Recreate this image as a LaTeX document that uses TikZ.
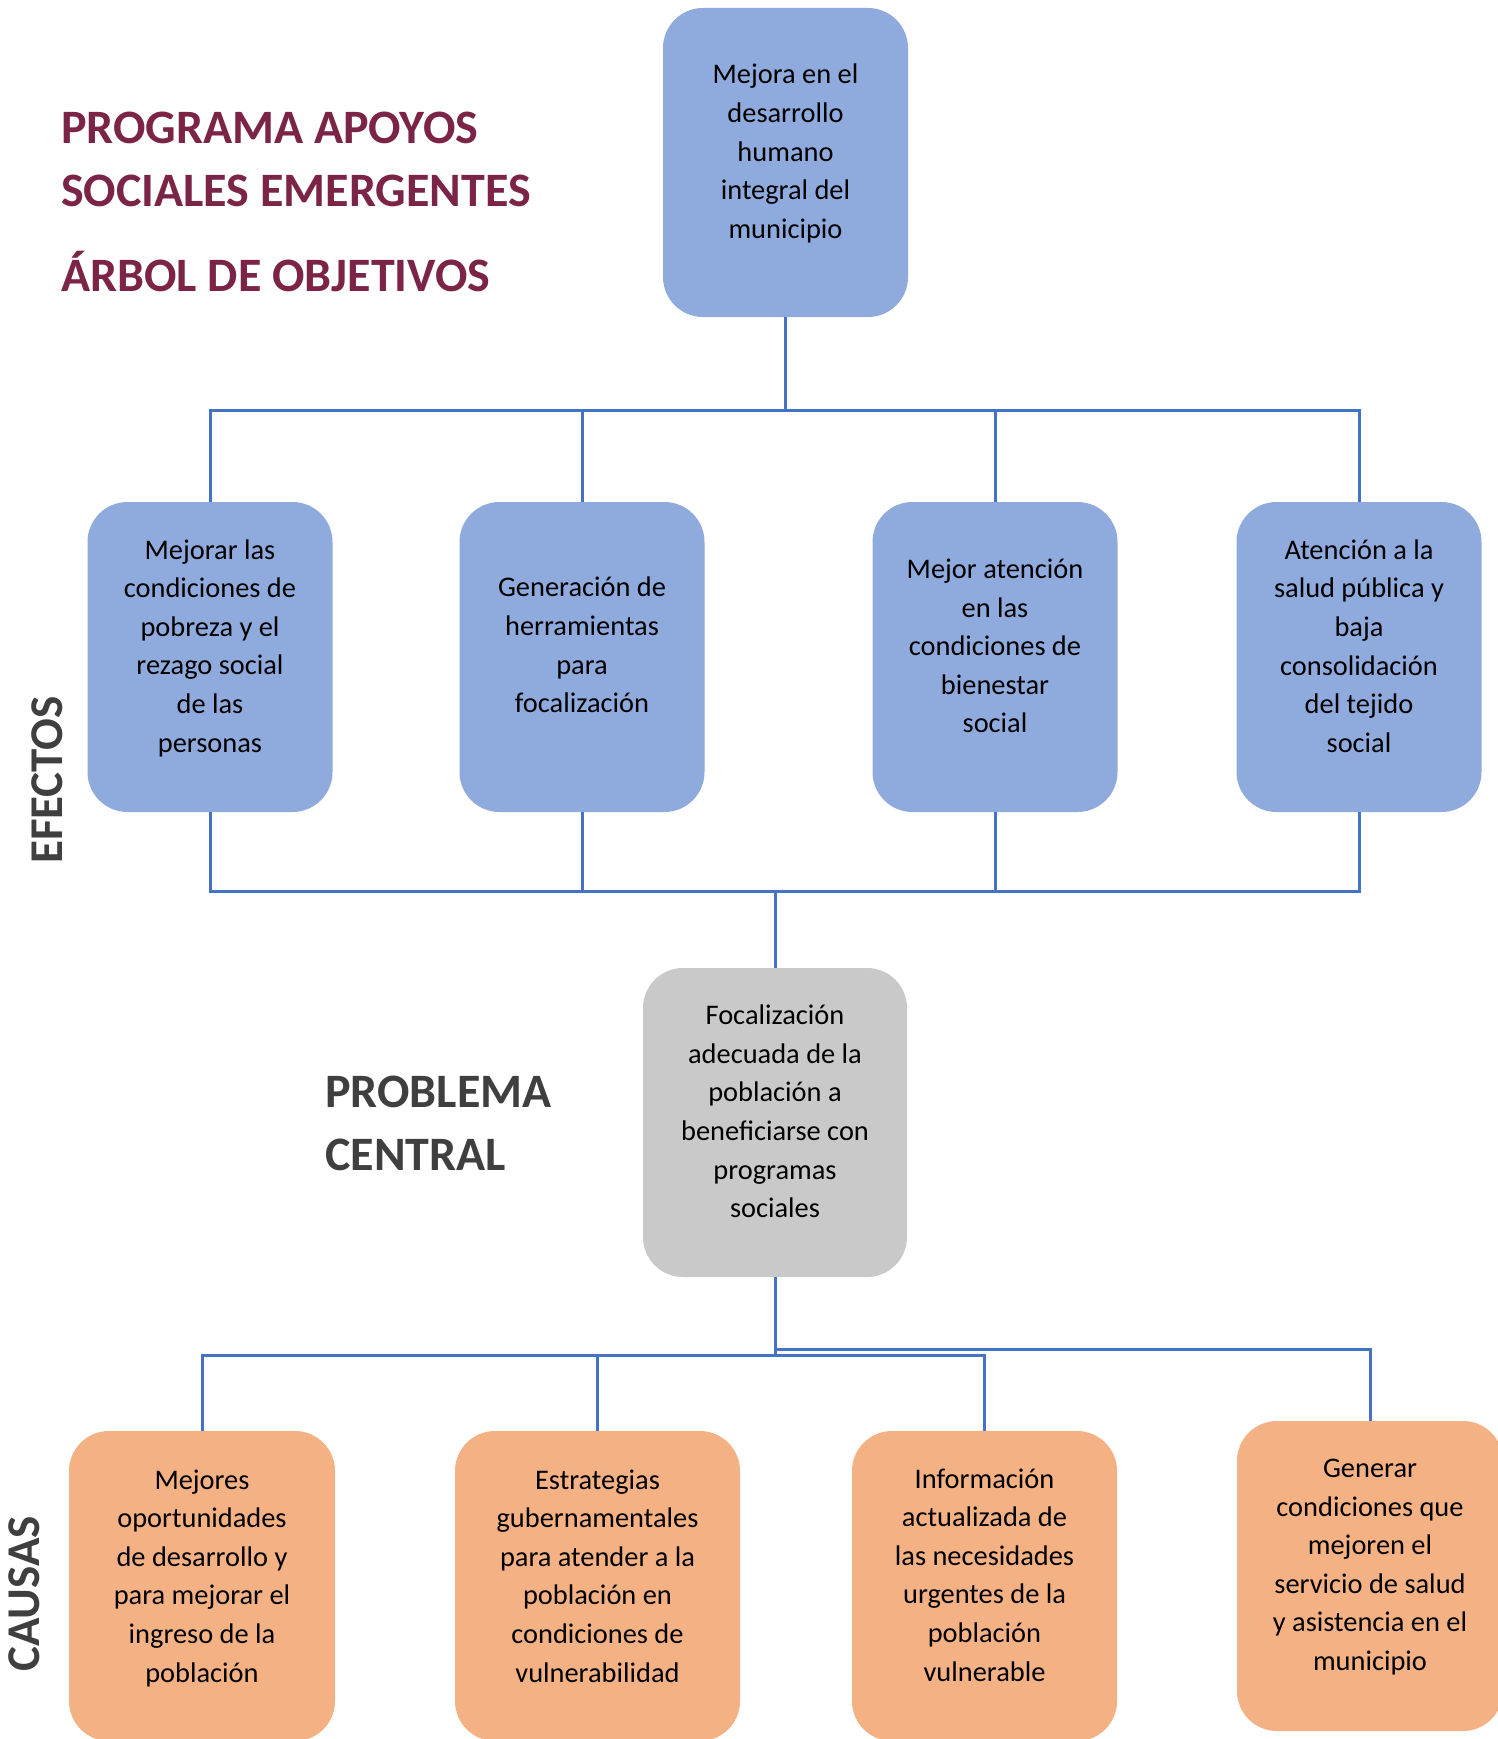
\documentclass[tikz,border=0pt]{standalone}
\usepackage{fontspec}
\setmainfont{Carlito}
\definecolor{boxblue}{HTML}{8FAADC}
\definecolor{boxgray}{HTML}{C9C9C9}
\definecolor{boxorange}{HTML}{F4B183}
\definecolor{linkblue}{HTML}{4472C4}
\definecolor{titlered}{HTML}{7C2348}
\definecolor{labelgray}{HTML}{3F3F3F}
\tikzset{
  box/.style={rounded corners=40pt, inner sep=0pt, draw=none},
  bluebox/.style={box, fill=boxblue},
  graybox/.style={box, fill=boxgray},
  orangebox/.style={box, fill=boxorange},
  txt/.style={align=center, inner sep=0pt, font=\fontsize{28.4}{38.6}\selectfont},
  conn/.style={draw=linkblue, line width=3pt},
  titletxt/.style={anchor=base west, inner sep=0pt, text=titlered, font=\fontsize{48}{58}\selectfont\bfseries},
  sectxt/.style={anchor=base west, inner sep=0pt, text=labelgray, font=\fontsize{48}{58}\selectfont\bfseries},
  sidetxt/.style={rotate=90, inner sep=0pt, text=labelgray, font=\fontsize{47}{56}\selectfont\bfseries}
}
\begin{document}
\begin{tikzpicture}[x=1pt, y=-1pt]
\clip (0,0) rectangle (1498,1739);
\fill[white] (0,0) rectangle (1498,1739);

% titles
\node[titletxt] (ti1) at (61,144) {PROGRAMA APOYOS};
\node[titletxt] (ti2) at (61,207) {SOCIALES EMERGENTES};
\node[titletxt] (ti3) at (61,291) {ÁRBOL DE OBJETIVOS};
\node[sectxt] (pc1) at (325,1107) {PROBLEMA};
\node[sectxt] (pc2) at (325,1170) {CENTRAL};
\node[sidetxt] (lef) at (47,780) {EFECTOS};
\node[sidetxt] (lca) at (24,1594) {CAUSAS};

% boxes
\node[bluebox, minimum width=245pt, minimum height=309pt] (top) at (785.5,162.5) {};
\node[bluebox, minimum width=245pt, minimum height=310pt] (e1) at (210,657) {};
\node[bluebox, minimum width=245pt, minimum height=310pt] (e2) at (582,657) {};
\node[bluebox, minimum width=245pt, minimum height=310pt] (e3) at (995,657) {};
\node[bluebox, minimum width=245pt, minimum height=310pt] (e4) at (1359,657) {};
\node[graybox, minimum width=264pt, minimum height=309pt] (cen) at (775,1122.5) {};
\node[orangebox, minimum width=266pt, minimum height=310pt] (c1) at (202,1586) {};
\node[orangebox, minimum width=285pt, minimum height=310pt] (c2) at (597.5,1586) {};
\node[orangebox, minimum width=265pt, minimum height=310pt] (c3) at (984.5,1586) {};
\node[orangebox, minimum width=266pt, minimum height=310pt] (c4) at (1370,1576) {};

% texts
\node[txt] (t0) at ([yshift=9pt]top.center) {Mejora en el\\desarrollo\\humano\\integral del\\municipio};
\node[txt] (t1) at ([yshift=9pt]e1.center) {Mejorar las\\condiciones de\\pobreza y el\\rezago social\\de las\\personas};
\node[txt] (t2) at ([yshift=12pt]e2.center) {Generación de\\herramientas\\para\\focalización};
\node[txt] (t3) at ([yshift=11pt]e3.center) {Mejor atención\\en las\\condiciones de\\bienestar\\social};
\node[txt] (t4) at ([yshift=11pt]e4.center) {Atención a la\\salud pública y\\baja\\consolidación\\del tejido\\social};
\node[txt] (t5) at ([yshift=11pt]cen.center) {Focalización\\adecuada de la\\población a\\beneficiarse con\\programas\\sociales};
\node[txt] (t6) at ([yshift=8pt]c1.center) {Mejores\\oportunidades\\de desarrollo y\\para mejorar el\\ingreso de la\\población};
\node[txt] (t7) at ([yshift=10pt]c2.center) {Estrategias\\gubernamentales\\para atender a la\\población en\\condiciones de\\vulnerabilidad};
\node[txt] (t8) at ([yshift=11pt]c3.center) {Información\\actualizada de\\las necesidades\\urgentes de la\\población\\vulnerable};
\node[txt] (t9) at ([yshift=9pt]c4.center) {Generar\\condiciones que\\mejoren el\\servicio de salud\\y asistencia en el\\municipio};

% bus coordinates
\coordinate (bt) at (785.5,410);
\coordinate (bb) at (775,891);
\coordinate (cl) at (775,1355);
\coordinate (cr) at (775,1349);

% connectors top
\draw[conn] (top.south) -- (bt);
\draw[conn] (e1.north) -- (e1.north |- bt) -- (e4.north |- bt) -- (e4.north);
\draw[conn] (e2.north) -- (e2.north |- bt);
\draw[conn] (e3.north) -- (e3.north |- bt);
% connectors bottom of effects
\draw[conn] (e1.south) -- (e1.south |- bb) -- (e4.south |- bb) -- (e4.south);
\draw[conn] (e2.south) -- (e2.south |- bb);
\draw[conn] (e3.south) -- (e3.south |- bb);
\draw[conn] (bb) -- (cen.north);
% connectors causes
\draw[conn] (cen.south) -- (cl);
\draw[conn] (c1.north) -- (c1.north |- cl) -- (c3.north |- cl) -- (c3.north);
\draw[conn] (c2.north) -- (c2.north |- cl);
\draw[conn] (cr) -- (c4.north |- cr) -- (c4.north);
\end{tikzpicture}
\end{document}
